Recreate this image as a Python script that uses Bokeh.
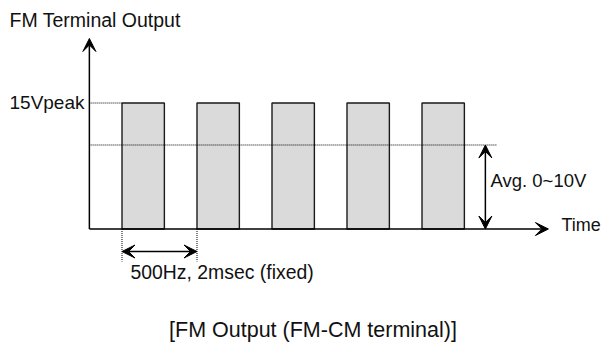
from bokeh.plotting import figure
from bokeh.models import Arrow, VeeHead, Range1d
from bokeh.core.properties import value
from bokeh.embed import file_html
from bokeh.resources import INLINE

# ---- data (time in ms, voltage in V) ----
pulse_starts = [0.87, 2.87, 4.87, 6.87, 8.87]
pulse_width = 1.13
peak_v = 15.0
avg_v = 10.0
time_axis_end = 12.24
volt_axis_end = 22.68
avg_line_end = 10.88
avg_arrow_x = 10.56
period_arrow_y = -2.68
period_tick_bottom = -3.87

title_text = "FM Terminal Output"
peak_label = "15Vpeak"
avg_label = "Avg. 0~10V"
time_label = "Time"
period_label = "500Hz, 2msec (fixed)"
caption = "[FM Output (FM-CM terminal)]"

W, H = 604, 346
XPX, YPX = 37.5, 8.4       # px per ms, px per V
x0_px, y0_px = 88.875, 117.5  # origin inside canvas (from left / from bottom)

p = figure(width=W, height=H, output_backend="svg", toolbar_location=None,
           x_axis_type=None, y_axis_type=None, min_border=0,
           x_range=Range1d(-x0_px / XPX, (W - x0_px) / XPX),
           y_range=Range1d(-y0_px / YPX, (H - y0_px) / YPX))
p.outline_line_color = None
p.grid.visible = False
p.background_fill_color = "white"
p.border_fill_color = "white"

FONT = value("Liberation Sans")

# pulses
p.quad(left=pulse_starts, right=[s + pulse_width for s in pulse_starts],
       bottom=0, top=peak_v, fill_color="#dadada", line_color="#1a1a1a", line_width=1.4)

# dotted reference lines
DOT = dict(line_color="black", line_width=1, line_dash="1 1")
p.line([0, pulse_starts[0]], [peak_v, peak_v], **DOT)
p.line([0, avg_line_end], [avg_v, avg_v], **DOT)
for s in pulse_starts[:2]:
    p.line([s, s], [0, period_tick_bottom], **DOT)

def head():
    return VeeHead(size=13, fill_color="black", line_color="black")

# axes arrows
p.add_layout(Arrow(x_start=0, y_start=0, x_end=0, y_end=volt_axis_end, line_width=1.5, end=head()))
p.add_layout(Arrow(x_start=0, y_start=0, x_end=time_axis_end, y_end=0, line_width=1.5, end=head()))
# avg double arrow
p.add_layout(Arrow(x_start=avg_arrow_x, y_start=0, x_end=avg_arrow_x, y_end=avg_v, line_width=1.5,
                   start=head(), end=head()))
# period double arrow
p.add_layout(Arrow(x_start=pulse_starts[0], y_start=period_arrow_y, x_end=pulse_starts[1],
                   y_end=period_arrow_y, line_width=1.5, start=head(), end=head()))

# texts: positions given as pixel layout, converted into data units
ZERO_Y = H - y0_px
def txt(px, py, t, size, align="left"):
    x = (px - x0_px) / XPX
    y = (ZERO_Y - (py - 8)) / YPX
    p.text(x=[x], y=[y], text=[t], text_font=FONT, text_font_size=size,
           text_align=align, text_baseline="alphabetic", text_color="#111111")

txt(9, 27, title_text, "19.5px")
txt(84, 110, peak_label, "19px", "right")
txt(490, 188.3, avg_label, "18.5px")
txt(561, 232.7, time_label, "18px")
txt(130, 279.3, period_label, "19.4px")
txt(312.5, 337, caption, "21.5px", "center")

open("out.html", "w").write(file_html(p, INLINE))
